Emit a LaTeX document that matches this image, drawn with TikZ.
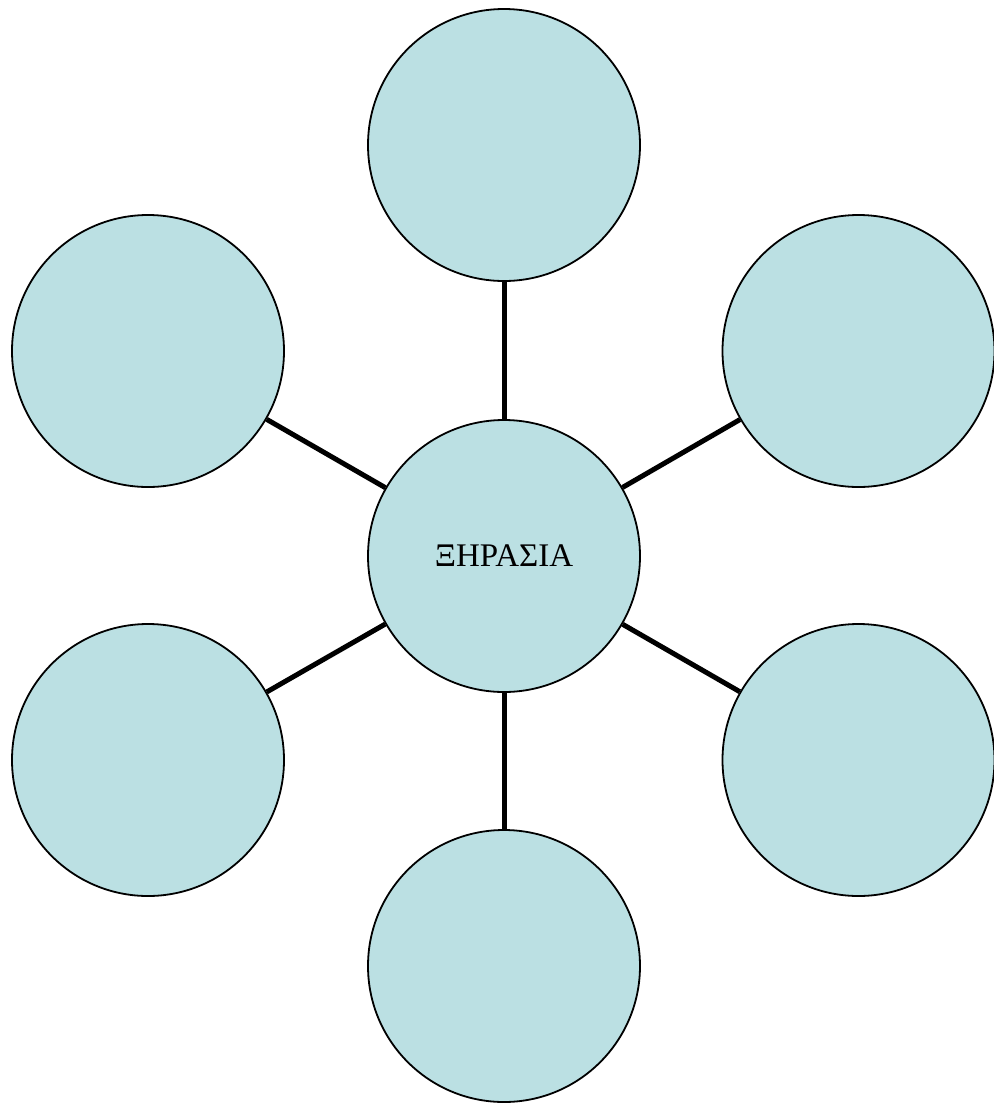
\documentclass[tikz,border=0pt]{standalone}
\usepackage{fontspec}
\setmainfont{Liberation Serif}
\definecolor{bubble}{RGB}{187,224,227}
\begin{document}
\begin{tikzpicture}[x=1pt,y=-1pt,
  bub/.style={circle,draw=black,line width=1.8pt,fill=bubble,minimum size=272pt,inner sep=0pt},
  link/.style={line width=5pt,black}]
\useasboundingbox (0,0) rectangle (994,1104);
\node[bub] (c) at (504,556) {\fontsize{33}{36}\selectfont ΞΗΡΑΣΙΑ};
\node[bub] (t) at (504,145) {};
\node[bub] (b) at (504,966) {};
\node[bub] (lt) at (148,351) {};
\node[bub] (rt) at (858.5,351) {};
\node[bub] (lb) at (148,760) {};
\node[bub] (rb) at (858.5,760) {};
\foreach \n in {t,b,lt,rt,lb,rb}{\draw[link] (c) -- (\n);}
\end{tikzpicture}
\end{document}
